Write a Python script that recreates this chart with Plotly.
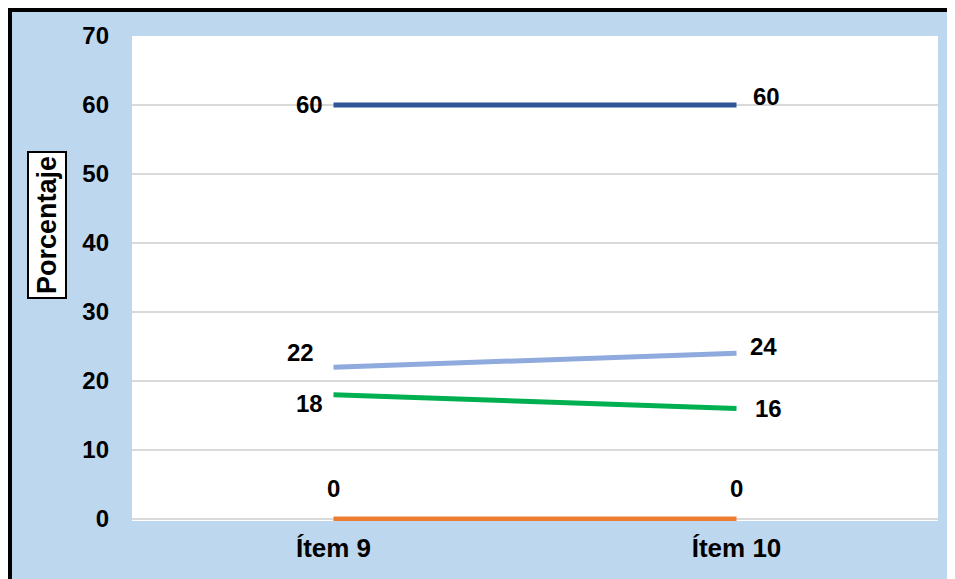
import plotly.graph_objects as go

categories = ["Ítem 9", "Ítem 10"]
series_a = [60, 60]   # dark blue
series_b = [22, 24]   # light blue
series_c = [18, 16]   # green
series_d = [0, 0]     # orange
y_ticks = [0, 10, 20, 30, 40, 50, 60, 70]

colors = ["#2F5597", "#8FAADC", "#00B050", "#ED7D31"]
all_series = [series_a, series_b, series_c, series_d]

W, H = 955, 579
L, R, T, B = 124, 25, 28, 66

fig = go.Figure()
for s, c in zip(all_series, colors):
    fig.add_trace(go.Scatter(x=[0, 1], y=s, mode="lines",
                             line=dict(color=c, width=5),
                             cliponaxis=False, hoverinfo="skip",
                             showlegend=False))

FONT = "Liberation Sans, Arial, sans-serif"
font_lbl = dict(family=FONT, size=24, color="black")
# label offsets (px) per series per point
offsets = [
    [(-24, 0), (30, 8)],
    [(-33, 15), (27, 7)],
    [(-24, -9), (32, 0)],
    [(0, 30), (0, 30)],
]
annotations = []
for s, offs in zip(all_series, offsets):
    for i, v in enumerate(s):
        annotations.append(dict(x=i, y=v, xref="x", yref="y", text=f"<b>{v}</b>",
                                showarrow=False, xshift=offs[i][0], yshift=offs[i][1],
                                font=font_lbl))

pw, ph = W - L - R, H - T - B

def px_x(v):
    return (v - L) / pw

def px_y(v):
    return (H - B - v) / ph

annotations.append(dict(x=px_x(38.5), y=px_y(217.5),
                        xref="paper", yref="paper", text="<b>Porcentaje</b>",
                        xanchor="center", yanchor="middle",
                        textangle=-90, showarrow=False,
                        font=dict(family=FONT, size=27, color="black"),
                        bgcolor="white", bordercolor="black", borderwidth=2, borderpad=3))

shapes = [
    dict(type="line", xref="paper", yref="paper", x0=px_x(2), x1=px_x(2),
         y0=px_y(0), y1=px_y(H), line=dict(color="black", width=4), layer="below"),
    dict(type="line", xref="paper", yref="paper", x0=px_x(0), x1=px_x(W),
         y0=px_y(2), y1=px_y(2), line=dict(color="black", width=4), layer="below"),
]

fig.update_layout(
    width=W, height=H,
    margin=dict(l=L, r=R, t=T, b=B),
    paper_bgcolor="#BDD7EE",
    plot_bgcolor="white",
    annotations=annotations,
    shapes=shapes,
    xaxis=dict(range=[-0.5, 1.5], tickvals=[0, 1], ticktext=[f"<b>{c}</b>" for c in categories],
               showgrid=False, zeroline=False, showline=False,
               tickfont=dict(family=FONT, size=26, color="black"), ticks="", ticklabelstandoff=9),
    yaxis=dict(range=[-0.3, 70], tickvals=y_ticks, ticktext=[f"<b>{t}</b>" for t in y_ticks],
               showgrid=True, gridcolor="#D9D9D9", gridwidth=2, zeroline=False,
               showline=False, tickfont=font_lbl, ticks="", ticklabelstandoff=22),
)
fig.write_html("out.html")
